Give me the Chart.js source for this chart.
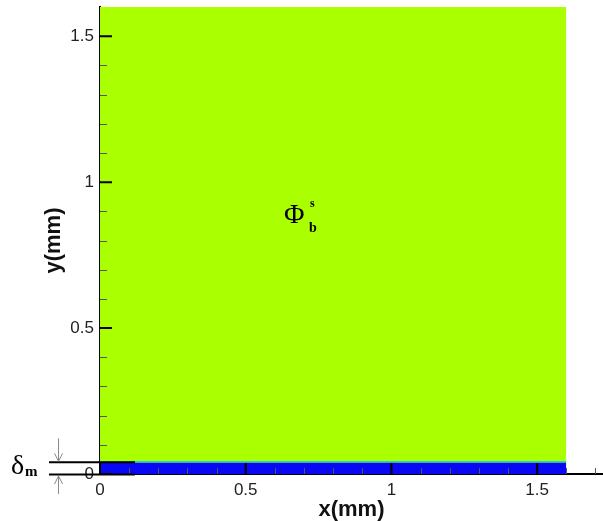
<!DOCTYPE html>
<html>
<head>
<meta charset="utf-8">
<script src="https://cdn.jsdelivr.net/npm/chart.js@4.4.1/dist/chart.umd.min.js"></script>
<style>
    body { margin: 0; background: #fff; }
    canvas { display: block; }
</style>
</head>
<body>
<canvas id="phaseChart" width="603" height="521"></canvas>
<script>
// 区域数据 (mm)
const domainX = [0, 1.6];
const domainTop = 1.6;
const layerTop = 0.04;   // δm 层厚度
const xMajorTicks = [0, 0.5, 1, 1.5];
const yMajorTicks = [0, 0.5, 1, 1.5];
const xMinorTicks = [0.1, 0.2, 0.3, 0.4, 0.6, 0.7, 0.8, 0.9, 1.1, 1.2, 1.3, 1.4, 1.6, 1.7];
const yMinorTicks = [0.1, 0.2, 0.3, 0.4, 0.6, 0.7, 0.8, 0.9, 1.1, 1.2, 1.3, 1.4];
const labelPos = { x: 0.635, y: 0.889 };

const tickFont = { family: '"Liberation Sans", Arial, sans-serif', size: 17 };
const titleFont = { family: '"Liberation Sans", Arial, sans-serif', size: 22, weight: 'bold', lineHeight: 1 };

// 刻度线 (朝内) 和标注
const decorPlugin = {
    id: 'decor',
    afterDatasetsDraw(chart) {
        const ctx = chart.ctx;
        const xs = chart.scales.x, ys = chart.scales.y;
        const x0 = xs.getPixelForValue(0), y0 = ys.getPixelForValue(0);
        ctx.save();

        // 层顶部过渡线
        ctx.strokeStyle = '#20d8c0';
        ctx.lineWidth = 1.5;
        ctx.beginPath();
        ctx.moveTo(xs.getPixelForValue(domainX[0]), ys.getPixelForValue(layerTop) - 0.5);
        ctx.lineTo(xs.getPixelForValue(domainX[1]), ys.getPixelForValue(layerTop) - 0.5);
        ctx.stroke();

        // 次刻度
        ctx.strokeStyle = '#555';
        ctx.lineWidth = 1;
        ctx.beginPath();
        xMinorTicks.forEach(v => {
            const px = Math.round(xs.getPixelForValue(v)) + 0.5;
            ctx.moveTo(px, y0); ctx.lineTo(px, y0 - 6);
        });
        yMinorTicks.forEach(v => {
            const py = Math.round(ys.getPixelForValue(v)) + 0.5;
            ctx.moveTo(x0, py); ctx.lineTo(x0 + 7, py);
        });
        ctx.stroke();

        // 主刻度
        ctx.strokeStyle = '#000';
        ctx.lineWidth = 2;
        ctx.beginPath();
        xMajorTicks.forEach(v => {
            const px = xs.getPixelForValue(v);
            ctx.moveTo(px, y0); ctx.lineTo(px, y0 - 11);
        });
        yMajorTicks.forEach(v => {
            const py = ys.getPixelForValue(v);
            ctx.moveTo(x0, py); ctx.lineTo(x0 + 12, py);
        });
        ctx.stroke();

        // δm 标注线
        const lx1 = xs.getPixelForValue(-0.175), lx2 = xs.getPixelForValue(0.12);
        const yTop = ys.getPixelForValue(layerTop);
        ctx.beginPath();
        ctx.moveTo(lx1, yTop); ctx.lineTo(lx2, yTop);
        ctx.moveTo(lx1, y0 + 0.5); ctx.lineTo(lx2, y0 + 0.5);
        ctx.stroke();

        // 箭头
        const ax = xs.getPixelForValue(-0.144) + 0.5;
        ctx.strokeStyle = '#888';
        ctx.lineWidth = 1;
        ctx.beginPath();
        ctx.moveTo(ax, yTop - 24); ctx.lineTo(ax, yTop - 1);
        ctx.moveTo(ax - 4, yTop - 9); ctx.lineTo(ax, yTop - 1); ctx.lineTo(ax + 4, yTop - 9);
        ctx.moveTo(ax, y0 + 20); ctx.lineTo(ax, y0 + 2);
        ctx.moveTo(ax - 4, y0 + 10); ctx.lineTo(ax, y0 + 2); ctx.lineTo(ax + 4, y0 + 10);
        ctx.stroke();

        // δm 文字
        ctx.fillStyle = '#000';
        ctx.textBaseline = 'alphabetic';
        ctx.textAlign = 'left';
        ctx.font = '28px "Liberation Serif", "DejaVu Serif", serif';
        ctx.fillText('δ', 11, 474);
        ctx.font = 'bold 15px "Liberation Serif", "DejaVu Serif", serif';
        ctx.fillText('m', 25, 476);

        // Φ_b^s
        const px = xs.getPixelForValue(labelPos.x), py = ys.getPixelForValue(labelPos.y);
        ctx.font = '28px "Liberation Serif", "DejaVu Serif", serif';
        ctx.textBaseline = 'middle';
        ctx.fillText('Φ', px - 1, py + 1);
        ctx.font = 'bold 14px "Liberation Serif", "DejaVu Serif", serif';
        ctx.fillText('b', px + 24, py + 14);
        ctx.font = 'bold 12px "Liberation Serif", "DejaVu Serif", serif';
        ctx.fillText('s', px + 25, py - 11);

        ctx.restore();
    }
};

const chart = new Chart(document.getElementById('phaseChart'), {
    type: 'line',
    data: {
        datasets: [
            {
                label: 'bulk',
                data: [{ x: domainX[0], y: domainTop }, { x: domainX[1], y: domainTop }],
                borderWidth: 0,
                pointRadius: 0,
                backgroundColor: '#aaff00',
                fill: { value: layerTop }
            },
            {
                label: 'layer',
                data: [{ x: domainX[0], y: layerTop }, { x: domainX[1], y: layerTop }],
                borderWidth: 0,
                pointRadius: 0,
                backgroundColor: '#0808f5',
                fill: { value: 0 }
            }
        ]
    },
    options: {
        responsive: false,
        animation: false,
        layout: { padding: { top: 7, right: 0, bottom: 0, left: 0 } },
        plugins: {
            legend: { display: false },
            tooltip: { enabled: false }
        },
        scales: {
            x: {
                type: 'linear',
                min: 0,
                max: 1.726,
                afterFit(scale) {
                    scale.height = 47;
                    scale.paddingLeft = 0;
                    scale.paddingRight = 0;
                },
                afterBuildTicks(scale) { scale.ticks = xMajorTicks.map(v => ({ value: v })); },
                grid: { display: false, drawTicks: false },
                border: { display: true, color: '#000', width: 2 },
                ticks: {
                    font: tickFont,
                    color: '#222',
                    padding: 6,
                    maxRotation: 0,
                    autoSkip: false,
                    callback: v => String(v)
                },
                title: {
                    display: true,
                    text: 'x(mm)',
                    font: titleFont,
                    color: '#111',
                    padding: { top: 0, bottom: 0 }
                }
            },
            y: {
                type: 'linear',
                min: 0,
                max: 1.6,
                afterFit(scale) {
                    scale.width = 100;
                    scale.paddingTop = 0;
                    scale.paddingBottom = 0;
                },
                afterBuildTicks(scale) { scale.ticks = yMajorTicks.map(v => ({ value: v })); },
                grid: { display: false, drawTicks: false },
                border: { display: true, color: '#000', width: 2 },
                ticks: {
                    font: tickFont,
                    color: '#222',
                    padding: 6,
                    autoSkip: false,
                    callback: v => String(v)
                },
                title: {
                    display: true,
                    text: 'y(mm)',
                    font: titleFont,
                    color: '#111',
                    padding: { top: 43, bottom: 0 }
                }
            }
        }
    },
    plugins: [decorPlugin]
});
</script>
</body>
</html>
